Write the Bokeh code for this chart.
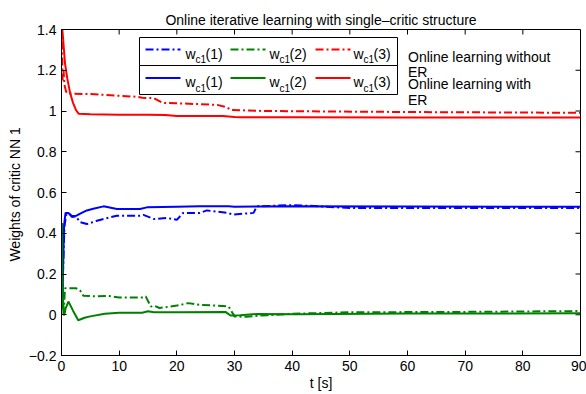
from bokeh.plotting import figure
from bokeh.models import Range1d, FixedTicker, CustomJSTickFormatter, Label
from bokeh.embed import file_html
from bokeh.resources import INLINE

# ---- data: critic weights over time, online learning without ER (dash-dot) ----
t_noer_w1 = [0, 0.1, 0.5, 0.8, 1.2, 1.8, 2.5, 3.2, 4.4, 6, 8, 9.6, 13.6, 14.2, 16, 18.3, 20,
             21.1, 24, 25.2, 28.7, 29.8, 33.3, 33.9, 40, 42.8, 50, 70, 90]
w1_noer = [0.04, 0.05, 0.43, 0.49, 0.50, 0.48, 0.483, 0.455, 0.445, 0.46, 0.475, 0.486, 0.486,
           0.49, 0.47, 0.475, 0.466, 0.50, 0.50, 0.512, 0.50, 0.492, 0.50, 0.532, 0.538, 0.535,
           0.524, 0.524, 0.524]

t_noer_w2 = [0, 0.1, 0.2, 0.4, 0.6, 1.0, 2.5, 3.2, 3.8, 6, 8, 10, 14, 14.6, 15.5, 16, 17, 20,
             22, 24, 27, 29, 30, 32, 34, 40, 50, 70, 90]
w2_noer = [0.03, 0.43, 0.10, 0.02, 0.13, 0.13, 0.13, 0.12, 0.093, 0.09, 0.093, 0.085, 0.085,
           0.09, 0.04, 0.045, 0.033, 0.045, 0.057, 0.048, 0.045, 0.04, -0.008, -0.01, -0.005,
           0.005, 0.012, 0.014, 0.018]

t_noer_w3 = [0, 0.2, 0.35, 0.5, 0.8, 1.2, 5, 13, 14, 16, 17.5, 20, 27, 28.5, 29.5, 35, 45,
             60, 75, 90]
w3_noer = [1.42, 1.15, 1.20, 1.13, 1.095, 1.085, 1.083, 1.07, 1.065, 1.063, 1.04, 1.038, 1.03,
           1.02, 1.005, 1.0, 0.998, 0.995, 0.993, 0.991]

# ---- data: online learning with ER (solid) ----
t_er_w1 = [0, 0.12, 0.45, 0.7, 1.2, 1.8, 2.6, 3.5, 4.4, 5.5, 7.3, 9.6, 13.6, 14.8, 20, 24, 29,
           30, 40, 60, 90]
w1_er = [0.03, 0.04, 0.44, 0.50, 0.50, 0.485, 0.486, 0.50, 0.512, 0.52, 0.532, 0.519, 0.519,
         0.527, 0.53, 0.532, 0.532, 0.53, 0.532, 0.531, 0.53]

t_er_w2 = [0, 0.1, 0.2, 0.35, 0.5, 0.7, 1.2, 2.0, 2.9, 4.0, 5.0, 7.5, 10, 14, 15, 16, 20, 28.5,
           29.3, 31, 34, 41, 60, 90]
w2_er = [0.03, 0.45, 0.10, 0.0, 0.0, 0.03, 0.065, 0.02, -0.027, -0.015, -0.008, 0.005, 0.01,
         0.01, 0.017, 0.012, 0.012, 0.013, -0.004, -0.003, 0.004, 0.003, 0.006, 0.007]

t_er_w3 = [0, 0.15, 0.6, 1.0, 1.5, 2.0, 2.5, 3.0, 5, 10, 15, 18, 20, 28, 30, 31, 40, 60, 90]
w3_er = [1.45, 1.40, 1.235, 1.16, 1.088, 1.04, 1.005, 0.986, 0.984, 0.982, 0.982, 0.980, 0.976,
         0.975, 0.970, 0.969, 0.969, 0.968, 0.968]

x_ticks = [0, 10, 20, 30, 40, 50, 60, 70, 80, 90]
y_ticks = [-0.2, 0, 0.2, 0.4, 0.6, 0.8, 1.0, 1.2, 1.4]

legend_names = ["(1)", "(2)", "(3)"]
legend_rows = ["Online learning without", "Online learning with"]

BLUE, GREEN, RED = "#0000ff", "#008000", "#ff0000"
FONT = "Liberation Sans"
DASHDOT = "8 3 2 3"
TICK = 5  # inward tick length, px

# frame geometry in pixels
FL, FT, FW, FH = 61, 29, 519, 326
XMIN, XMAX, YMIN, YMAX = 0, 90, -0.2, 1.4


def sx(px):
    return XMIN + (px - FL) / FW * (XMAX - XMIN)


def sy(py):
    return YMAX - (py - FT) / FH * (YMAX - YMIN)


p = figure(width=586, height=394, output_backend="svg", toolbar_location=None,
           x_range=Range1d(XMIN, XMAX), y_range=Range1d(YMIN, YMAX),
           min_border_left=FL, min_border_right=586 - FL - FW,
           min_border_top=FT, min_border_bottom=394 - FT - FH)
p.background_fill_color = "white"
p.border_fill_color = "white"
p.outline_line_color = "black"
p.outline_line_width = 1
p.grid.visible = False

p.title.text = "Online iterative learning with single\u2013critic structure"
p.title.align = "center"
p.title.text_font = FONT
p.title.text_font_size = "14px"
p.title.text_font_style = "normal"
p.title.text_color = "black"
p.title.standoff = 3

fmt = CustomJSTickFormatter(code="""
    const v = Math.round(tick * 10) / 10;
    if (Math.abs(v) < 1e-9) return "0";
    return String(v).replace("-", "\u2212");
""")

for ax, ticks in [(p.xaxis[0], x_ticks), (p.yaxis[0], y_ticks)]:
    ax.ticker = FixedTicker(ticks=ticks)
    ax.major_tick_in = TICK
    ax.major_tick_out = 0
    ax.minor_tick_line_color = None
    ax.axis_line_color = "black"
    ax.major_tick_line_color = "black"
    ax.major_label_text_font = FONT
    ax.major_label_text_font_size = "14px"
    ax.major_label_text_color = "black"
    ax.major_label_standoff = 5
    ax.axis_label_text_font = FONT
    ax.axis_label_text_font_size = "14px"
    ax.axis_label_text_font_style = "normal"
    ax.axis_label_text_color = "black"

p.yaxis[0].formatter = fmt
p.xaxis[0].axis_label = "t [s]"
p.xaxis[0].axis_label_standoff = 1
p.yaxis[0].axis_label = "Weights of critic NN  1"
p.yaxis[0].axis_label_standoff = 3

# inward ticks on the top and right edges of the box
p.segment(x0=x_ticks, x1=x_ticks, y0=[YMAX] * len(x_ticks), y1=[sy(FT + TICK)] * len(x_ticks),
          line_color="black", line_width=1)
p.segment(x0=[XMAX] * len(y_ticks), x1=[sx(FL + FW - TICK)] * len(y_ticks), y0=y_ticks,
          y1=y_ticks, line_color="black", line_width=1)

# curves: without ER first (dash-dot), then with ER (solid)
for t, w, c in [(t_noer_w1, w1_noer, BLUE), (t_noer_w2, w2_noer, GREEN), (t_noer_w3, w3_noer, RED)]:
    p.line(t, w, line_color=c, line_width=2, line_dash=DASHDOT)
for t, w, c in [(t_er_w1, w1_er, BLUE), (t_er_w2, w2_er, GREEN), (t_er_w3, w3_er, RED)]:
    p.line(t, w, line_color=c, line_width=2)

# two stacked legend boxes
box_tops = [37, 65]
box_bottoms = [65, 94]
row_line_y = [49, 77.5]
row_text_y = [53, 81.5]
p.quad(left=[sx(139)] * 2, right=[sx(397)] * 2, top=[sy(v) for v in box_tops],
       bottom=[sy(v) for v in box_bottoms], fill_color="white", line_color="black", line_width=1)

item_line_x0 = [145, 230, 315]
item_text_x = [185, 269, 353]
colors = [BLUE, GREEN, RED]
for r in range(2):
    dash = DASHDOT if r == 0 else "solid"
    for k in range(3):
        p.line([sx(item_line_x0[k]), sx(item_line_x0[k] + 35)], [sy(row_line_y[r])] * 2,
               line_color=colors[k], line_width=2, line_dash=dash)
        x0 = item_text_x[k]
        p.add_layout(Label(x=sx(x0), y=sy(row_text_y[r]), text="w", text_font=FONT,
                           text_font_size="14px", text_color="black", text_baseline="alphabetic"))
        p.add_layout(Label(x=sx(x0 + 10), y=sy(row_text_y[r] + 6), text="c1", text_font=FONT,
                           text_font_size="10px", text_color="black", text_baseline="alphabetic"))
        p.add_layout(Label(x=sx(x0 + 20), y=sy(row_text_y[r]), text=legend_names[k],
                           text_font=FONT, text_font_size="14px", text_color="black",
                           text_baseline="alphabetic"))

row_title_y = [(56.7, 71), (83.3, 99)]
for r in range(2):
    p.add_layout(Label(x=sx(407.5), y=sy(row_title_y[r][0]), text=legend_rows[r], text_font=FONT,
                       text_font_size="14px", text_color="black", text_baseline="alphabetic"))
    p.add_layout(Label(x=sx(407.5), y=sy(row_title_y[r][1]), text="ER", text_font=FONT,
                       text_font_size="14px", text_color="black", text_baseline="alphabetic"))

open("out.html", "w").write(file_html(p, INLINE))
